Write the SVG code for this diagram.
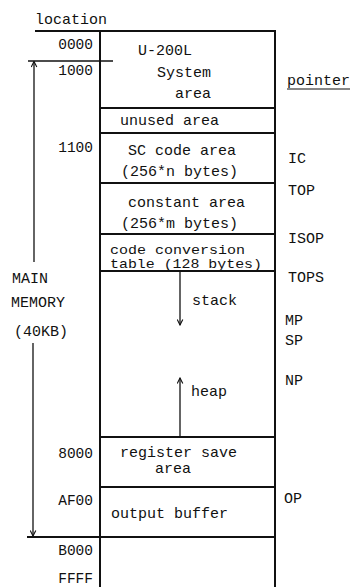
<svg xmlns="http://www.w3.org/2000/svg" width="351" height="587" viewBox="0 0 351 587">
<style>
text{font-family:"Liberation Mono","DejaVu Sans Mono",monospace;font-size:15px;fill:#111}
.n{font-size:14.5px;text-anchor:end}
.s{font-size:13px}
.box{fill:none;stroke:#111;stroke-width:2}
.div{stroke:#111;stroke-width:1.8;fill:none}
.arr{stroke:#111;stroke-width:1.3;fill:none}
</style>
<defs>
<marker id="ah" viewBox="0 0 10 10" refX="9" refY="5" markerWidth="7" markerHeight="7" orient="auto-start-reverse" markerUnits="userSpaceOnUse">
<path d="M1,1 L9,5 L1,9" fill="none" stroke="#111" stroke-width="1.6"/>
</marker>
</defs>
<rect width="351" height="587" fill="#fff"/>
<g id="labels">
<text x="35" y="24">location</text>
<line x1="35" y1="31" x2="100" y2="31" class="div"/>
<text class="n" x="93" y="49">0000</text>
<text class="n" x="93" y="75">1000</text>
<text class="n" x="93" y="152">1100</text>
<text class="n" x="93" y="458">8000</text>
<text class="n" x="93" y="505">AF00</text>
<text class="n" x="93" y="555">B000</text>
<text class="n" x="93" y="583">FFFF</text>
<text x="12" y="283">MAIN</text>
<text x="11" y="307">MEMORY</text>
<text x="14" y="336">(40KB)</text>
<text x="287" y="85">pointer</text>
<line x1="287" y1="89" x2="350" y2="89" stroke="#111" stroke-width="1.2"/>
<text x="288" y="163">IC</text>
<text x="288" y="195">TOP</text>
<text x="288" y="243">ISOP</text>
<text x="288" y="282">TOPS</text>
<text x="285" y="325">MP</text>
<text x="285" y="345">SP</text>
<text x="285" y="385">NP</text>
<text x="284" y="503">OP</text>
</g>
<g id="memory-frame">
<path class="box" d="M100,587 V31 H275 V587"/>
</g>
<g id="system-area">
<text x="138" y="55">U-200L</text>
<text x="157" y="77">System</text>
<text x="175" y="98">area</text>
</g>
<g id="unused-area">
<line x1="100" y1="108" x2="275" y2="108" class="div"/>
<text x="120" y="125">unused area</text>
</g>
<g id="sc-code-area">
<line x1="100" y1="133" x2="275" y2="133" class="div"/>
<text x="128" y="155">SC code area</text>
<text x="121" y="176">(256*n bytes)</text>
</g>
<g id="constant-area">
<line x1="100" y1="183" x2="275" y2="183" class="div"/>
<text x="128" y="207">constant area</text>
<text x="121" y="228">(256*m bytes)</text>
</g>
<g id="code-conversion-table">
<line x1="100" y1="234" x2="275" y2="234" class="div"/>
<text class="s" x="110" y="254" textLength="135" lengthAdjust="spacingAndGlyphs">code conversion</text>
<text class="s" x="110" y="267.5" textLength="152" lengthAdjust="spacingAndGlyphs">table (128 bytes)</text>
</g>
<g id="stack-heap-area">
<line x1="100" y1="271" x2="275" y2="271" class="div"/>
<text x="192" y="305">stack</text>
<text x="191" y="396">heap</text>
</g>
<g id="register-save-area">
<line x1="100" y1="437" x2="275" y2="437" class="div"/>
<text x="120" y="457">register save</text>
<text x="155" y="473">area</text>
</g>
<g id="output-buffer">
<line x1="100" y1="487" x2="275" y2="487" class="div"/>
<text x="111" y="518">output buffer</text>
</g>
<g id="upper-memory">
<line x1="27" y1="537" x2="275" y2="537" class="div"/>
</g>
<g id="connectors">
<line x1="28" y1="61" x2="113" y2="61" class="arr"/>
<line x1="34" y1="262" x2="34" y2="61.5" class="arr" marker-end="url(#ah)"/>
<line x1="33" y1="343" x2="33" y2="536" class="arr" marker-end="url(#ah)"/>
<line x1="180" y1="272" x2="180" y2="325" class="arr" marker-end="url(#ah)"/>
<line x1="180" y1="437" x2="180" y2="378" class="arr" marker-end="url(#ah)"/>
</g>
</svg>
